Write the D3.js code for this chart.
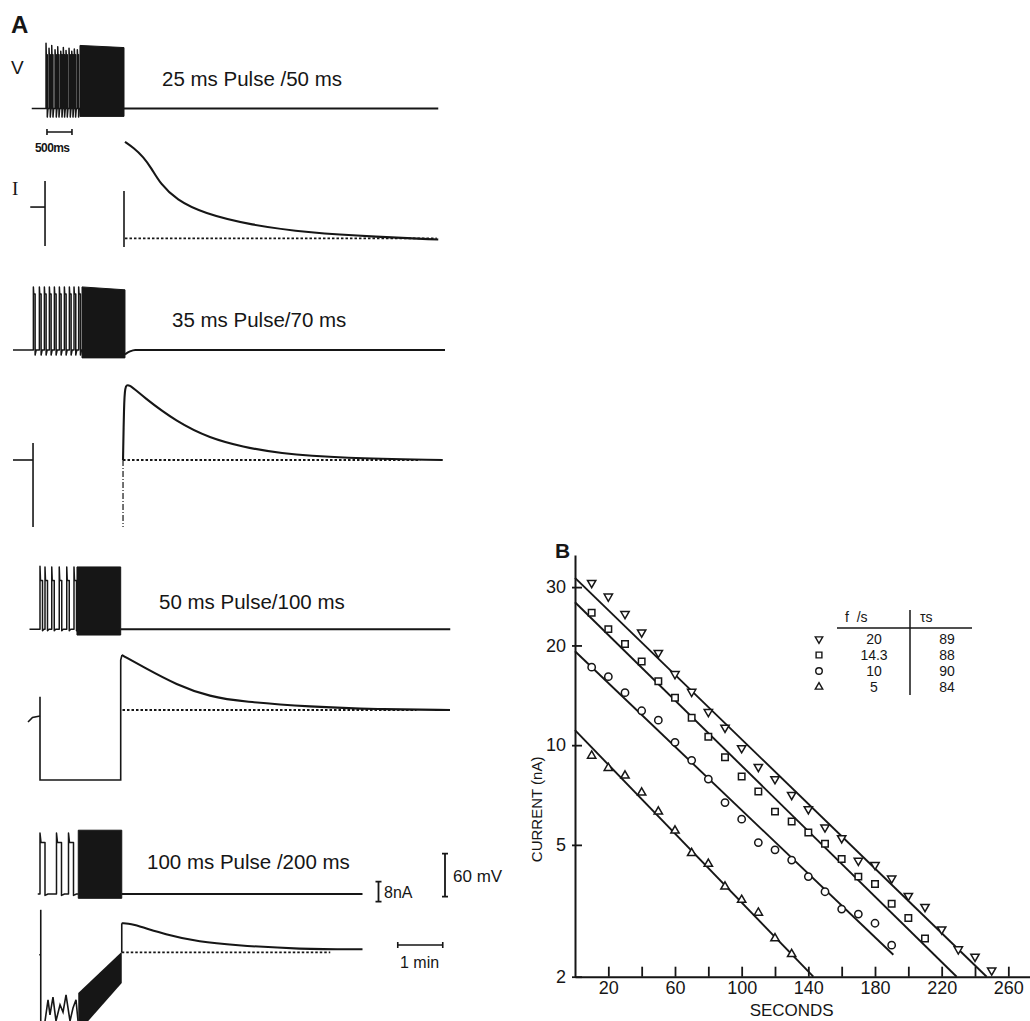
<!DOCTYPE html>
<html>
<head>
<meta charset="utf-8">
<script src="https://cdn.jsdelivr.net/npm/d3@7"></script>
<style>
  body { margin: 0; background: #fff; }
  svg { display: block; font-family: "Liberation Sans", Arial, sans-serif; }
</style>
</head>
<body>
<script>
// ---------- panel B data ----------
const secondsAll = [10,20,30,40,50,60,70,80,90,100,110,120,130,140,150,160,170,180,190,200,210,220,230,240,250];
const current20 = [30.9,28.1,24.9,21.9,19.0,16.4,14.5,12.6,11.3,9.8,8.6,7.9,7.08,6.41,5.65,5.24,4.48,4.35,3.96,3.51,3.25,2.78,2.42,2.30,2.09];
const current14 = [25.1,22.4,20.2,17.9,15.6,13.9,12.1,10.6,9.2,8.04,7.25,6.3,5.88,5.45,5.04,4.53,4.01,3.81,3.32,3.01,2.61];
const current10 = [17.2,16.1,14.4,12.7,11.9,10.2,9.0,7.9,6.71,5.98,5.08,4.83,4.5,4.01,3.61,3.2,3.09,2.9,2.49];
const current5  = [9.29,8.53,8.09,7.19,6.3,5.52,4.72,4.38,3.74,3.41,3.12,2.61,2.34];
const freqLabels = ["20", "14.3", "10", "5"];
const tauLabels = ["89", "88", "90", "84"];
const fitStart = [[0, 32], [0, 27], [0, 19.2], [0, 11.1]];
const fitEnd = [[247, 2], [229, 2], [191, 2.33], [143, 2]];
const yTickValues = [2, 5, 10, 20, 30];
const xTickValues = [20,40,60,80,100,120,140,160,180,200,220,240,260];
const xTickLabelled = [20,60,100,140,180,220,260];

// ---------- panel A data (times in s on the slow chart speed, fast part in ms) ----------
const pulseLabels = ["25 ms Pulse /50 ms", "35 ms Pulse/70 ms", "50 ms Pulse/100 ms", "100 ms Pulse /200 ms"];
const vStartS = [-123, -148, -126, -115];
const vEndS = [419, 428, 435, 318];
const fastStartS = [-105.3, -121.3, -112, -112];
const spikeMs = [
  [20, 80, 134, 200, 254, 314, 366, 420, 480, 534, 586, 646],
  [7, 127, 227, 327, 427, 527, 627, 727, 820, 913],
  [0, 100, 235, 385, 535, 680],
  [0, 330, 570]
];
const spikePeakMv = [
  [91, 84, 88, 82, 86, 80, 85, 81, 84, 80, 83, 82],
  [88, 88, 88, 88, 88, 88, 88, 88, 88, 88],
  [88, 87, 87, 87, 87, 87],
  [85, 85, 85]
];
const pulseWidthMs = [25, 35, 50, 100];
const plateauMv = [75, 78, 68, 72];
const undershootMv = [-12, -7, -2, -2];
const blockS = [[-58.7, 0], [-56, 1.3], [-62.7, -4.4], [-61, -3]];
const blockTopMv = [[88, 85], [88, 84], [87, 87], [89, 89]];
const blockBottomMv = [-11, -11, -8, -6];
const vAfter = [
  [[0, 0]],
  [[1.3, -6], [8, -2], [15, 0]],
  [[-4.4, 0]],
  [[-3, 0]]
];
// current traces, [s, nA] relative to the holding level
const iLines = [
  [ [[-125, 12.5], [-105.3, 12.5]], [[-105.3, 22.9], [-105.3, -3.1]], [[0, 18.9], [0, -3.5]] ],
  [ [[-148, 0], [-121.3, 0]], [[-121.3, 6.8], [-121.3, -26.8]] ],
  [ [[-128, -4.8], [-122, -3], [-112, -2.4]], [[-112, 5.3], [-112, -28], [-4.4, -28], [-4.4, 20], [-2.7, 22]] ],
  [ [[-111, 17], [-111, -30]], [[-113, -1], [-111, -1]],
    [[-105.3,-27.5],[-101.3,-19],[-98.7,-25],[-94.7,-17.9],[-90.7,-27.5],[-85.3,-21],[-81.3,-23.9],[-77.3,-17],[-72,-27.5],[-68,-22.3],[-64,-19],[-61.3,-27.5]],
    [[-3, 0], [-3, 11.6]] ]
];
const iDecay = [
  [[1.3,38.6],[13.3,36.1],[25.7,32.6],[37.3,27.7],[48,22],[70,15.3],[106,10],[168,5.3],[248,2.2],[337,0.6],[419,-0.5]],
  [[-1.3,0],[0,22],[1.3,29.3],[5.3,30.8],[25.3,25.3],[70,15.3],[114.7,8.7],[158.7,5.3],[203.6,2.7],[292,0.7],[425,0]],
  [[-2.7,22],[1.3,21.3],[25.3,17.3],[70.3,10],[114.7,5.3],[158.7,3.3],[248,1.3],[337,0.3],[434.7,0]],
  [[-3,11.6],[8,11.7],[57,6.9],[101,4.2],[145,2.9],[235,1.2],[318,1.2]]
];
const iDashDot = [null, [[-1.3, 0], [-1.3, -26.8]], null, null];
const iBlock = [null, null, null, [[-61, -16.3], [-3, 0.2], [-3, -12.3], [-61, -32]]];
const dashRangeS = [[1.3, 417], [-1.3, 395], [-2, 390], [-3, 275]];

// ---------- layout ----------
const W = 1030, H = 1021;
const ink = "#161616";
const vBase = [108.5, 350, 629.3, 894];
const iBase = [238.3, 460, 710, 952.3];
const labelPos = [[162, 86], [172, 327], [159, 609], [147, 869]];

const svg = d3.select("body").append("svg")
  .attr("width", W).attr("height", H);

// ---------------- Panel A ----------------
const xSlow = d3.scaleLinear().domain([0, 60]).range([124, 169]);
const FAST_S_PER_MS = 33.33 / 500; // 500 ms on fast speed spans 33.3 s of slow chart
const vScales = vBase.map(b => d3.scaleLinear().domain([0, 60]).range([b, b - 43]));
const iScales = iBase.map(b => d3.scaleLinear().domain([0, 8]).range([b, b - 20]));

const panelA = svg.append("g");
panelA.append("text").attr("x", 11).attr("y", 33)
  .attr("font-size", 24).attr("font-weight", "bold").attr("fill", ink).text("A");
panelA.append("text").attr("x", 11).attr("y", 74)
  .attr("font-size", 19).attr("fill", ink).text("V");
panelA.append("text").attr("x", 12).attr("y", 195)
  .attr("font-family", "'Liberation Serif', serif")
  .attr("font-size", 19).attr("fill", ink).text("I");

vBase.forEach((_, r) => {
  const g = panelA.append("g");
  const xv = vScales[r];
  const xi = iScales[r];
  const xf = ms => xSlow(fastStartS[r] + ms * FAST_S_PER_MS);

  // voltage trace
  const pts = [[xSlow(vStartS[r]), xv(0)], [xf(0) - 0.5, xv(0)]];
  spikeMs[r].forEach((t, k) => {
    const w = pulseWidthMs[r];
    pts.push([xf(t), xv(0)], [xf(t), xv(spikePeakMv[r][k])],
      [xf(t + w * 0.2), xv(plateauMv[r])], [xf(t + w), xv(plateauMv[r])],
      [xf(t + w), xv(undershootMv[r])], [xf(t + w * 1.6), xv(0)]);
  });
  pts.push([xSlow(blockS[r][0]), xv(0)]);
  g.append("path")
    .attr("d", d3.line()(pts))
    .attr("fill", "none").attr("stroke", ink).attr("stroke-width", 1.5)
    .attr("stroke-linejoin", "round");

  const blk = [[blockS[r][0], blockTopMv[r][0]], [blockS[r][1], blockTopMv[r][1]],
               [blockS[r][1], blockBottomMv[r]], [blockS[r][0], blockBottomMv[r]]];
  g.append("path")
    .attr("d", d3.line().x(d => xSlow(d[0])).y(d => xv(d[1]))(blk) + "Z")
    .attr("fill", ink).attr("stroke", ink).attr("stroke-width", 1);

  const after = [...vAfter[r], [vEndS[r], 0]];
  g.append("path")
    .attr("d", d3.line().x(d => xSlow(d[0])).y(d => xv(d[1])).curve(d3.curveMonotoneX)(after))
    .attr("fill", "none").attr("stroke", ink).attr("stroke-width", 2);

  g.append("text").attr("x", labelPos[r][0]).attr("y", labelPos[r][1])
    .attr("font-size", 20.5).attr("fill", ink).text(pulseLabels[r]);

  // current trace
  const lin = d3.line().x(d => xSlow(d[0])).y(d => xi(d[1]));
  iLines[r].forEach(seg => {
    g.append("path").attr("d", lin(seg))
      .attr("fill", "none").attr("stroke", ink).attr("stroke-width", 1.6);
  });
  if (iBlock[r]) {
    g.append("path").attr("d", lin(iBlock[r]) + "Z").attr("fill", ink);
  }
  if (iDashDot[r]) {
    g.append("path").attr("d", lin(iDashDot[r]))
      .attr("fill", "none").attr("stroke", ink).attr("stroke-width", 1.2)
      .attr("stroke-dasharray", "6 2 1 2");
  }
  g.append("path")
    .attr("d", lin([[dashRangeS[r][0], 0], [dashRangeS[r][1], 0]]))
    .attr("fill", "none").attr("stroke", ink).attr("stroke-width", 1.8)
    .attr("stroke-dasharray", "2.5 2");
  g.append("path")
    .attr("d", d3.line().x(d => xSlow(d[0])).y(d => xi(d[1])).curve(d3.curveBasis)(iDecay[r]))
    .attr("fill", "none").attr("stroke", ink).attr("stroke-width", 2.1);
});

// scale bars
function hBar(x0, x1, y, tick) {
  panelA.append("path")
    .attr("d", `M${x0},${y}H${x1}M${x0},${y - tick}V${y + tick}M${x1},${y - tick}V${y + tick}`)
    .attr("stroke", ink).attr("stroke-width", 1.6).attr("fill", "none");
}
function vBar(x, y0, y1, tick) {
  panelA.append("path")
    .attr("d", `M${x},${y0}V${y1}M${x - tick},${y0}H${x + tick}M${x - tick},${y1}H${x + tick}`)
    .attr("stroke", ink).attr("stroke-width", 1.8).attr("fill", "none");
}
const xf0 = ms => xSlow(-102.7 + ms * FAST_S_PER_MS);
hBar(xf0(0), xf0(500), 132, 3);
panelA.append("text").attr("x", 35).attr("y", 152).attr("font-size", 12)
  .attr("font-weight", "bold").attr("fill", ink).attr("letter-spacing", -0.6).text("500ms");

const nA = d3.scaleLinear().domain([0, 8]).range([901.7, 881.7]);
vBar(378.5, nA(0), nA(8), 3);
panelA.append("text").attr("x", 384).attr("y", 898).attr("font-size", 16)
  .attr("fill", ink).text("8nA");
const mV = d3.scaleLinear().domain([0, 60]).range([896.7, 853.7]);
vBar(445, mV(0), mV(60), 3);
panelA.append("text").attr("x", 453).attr("y", 882).attr("font-size", 17)
  .attr("fill", ink).text("60 mV");
hBar(xSlow(365), xSlow(425), 945, 3);
panelA.append("text").attr("x", 400).attr("y", 968).attr("font-size", 16)
  .attr("fill", ink).text("1 min");

// ---------------- Panel B ----------------
const bx = d3.scaleLinear().domain([0, 273]).range([575, 1030]);
const by = d3.scaleLog().domain([2, 37.5]).range([976.7, 555]);
const panelB = svg.append("g");

panelB.append("text").attr("x", 555).attr("y", 558)
  .attr("font-size", 21).attr("font-weight", "bold").attr("fill", ink).text("B");

const xAxis = panelB.append("g").attr("transform", `translate(0,${by(2)})`)
  .call(d3.axisBottom(bx).tickValues(xTickValues).tickSize(-10).tickSizeOuter(0).tickPadding(5)
    .tickFormat(d => xTickLabelled.includes(d) ? d : ""));
const yAxis = panelB.append("g").attr("transform", `translate(${bx(0)},0)`)
  .call(d3.axisLeft(by).tickValues(yTickValues).tickSize(-7).tickSizeOuter(0).tickPadding(9)
    .tickFormat(d => d));
[xAxis, yAxis].forEach(a => {
  a.attr("font-family", null).attr("font-size", null);
  a.selectAll("text").attr("font-size", 18).attr("fill", ink);
  a.selectAll("line").attr("stroke", ink).attr("stroke-width", 1.8);
  a.select(".domain").attr("stroke", ink).attr("stroke-width", 2);
});
yAxis.selectAll(".tick line").attr("x1", -3);

panelB.append("text").attr("x", bx(130)).attr("y", 1016).attr("text-anchor", "middle")
  .attr("font-size", 17).attr("fill", ink).text("SECONDS");
panelB.append("text").attr("transform", `translate(542,${by(6.4)}) rotate(-90)`)
  .attr("text-anchor", "middle").attr("font-size", 15).attr("fill", ink).text("CURRENT (nA)");

// fitted lines
fitStart.forEach((s, k) => {
  panelB.append("line")
    .attr("x1", bx(s[0])).attr("y1", by(s[1]))
    .attr("x2", bx(fitEnd[k][0])).attr("y2", by(fitEnd[k][1]))
    .attr("stroke", ink).attr("stroke-width", 1.9);
});

const symbols = [
  { type: d3.symbolTriangle, size: 30, rot: 180 },
  { type: d3.symbolSquare, size: 42, rot: 0 },
  { type: d3.symbolCircle, size: 42, rot: 0 },
  { type: d3.symbolTriangle, size: 30, rot: 0 }
];
const seriesList = [current20, current14, current10, current5];
seriesList.forEach((vals, k) => {
  const sym = d3.symbol().type(symbols[k].type).size(symbols[k].size);
  panelB.append("g").selectAll("path").data(vals).join("path")
    .attr("transform", (d, i) => `translate(${bx(secondsAll[i])},${by(d)}) rotate(${symbols[k].rot})`)
    .attr("d", sym())
    .attr("fill", "#fff").attr("stroke", ink).attr("stroke-width", 1.5);
});

// legend table
const leg = panelB.append("g");
const legRowY = [639, 655, 671, 687];
leg.append("text").attr("x", 845).attr("y", 622).attr("font-size", 14).attr("fill", ink)
  .attr("xml:space", "preserve").text("f  /s");
leg.append("text").attr("x", 920).attr("y", 622).attr("font-size", 14).attr("fill", ink).text("τs");
leg.append("line").attr("x1", 837).attr("x2", 972).attr("y1", 628).attr("y2", 628)
  .attr("stroke", ink).attr("stroke-width", 1.5);
leg.append("line").attr("x1", 910).attr("x2", 910).attr("y1", 610).attr("y2", 695)
  .attr("stroke", ink).attr("stroke-width", 1.5);
freqLabels.forEach((f, k) => {
  const sym = d3.symbol().type(symbols[k].type).size(symbols[k].size * 0.8);
  leg.append("path").attr("transform", `translate(819,${legRowY[k]}) rotate(${symbols[k].rot})`)
    .attr("d", sym()).attr("fill", "#fff").attr("stroke", ink).attr("stroke-width", 1.4);
  leg.append("text").attr("x", 874).attr("y", legRowY[k] + 5).attr("text-anchor", "middle")
    .attr("font-size", 14).attr("fill", ink).text(f);
  leg.append("text").attr("x", 947).attr("y", legRowY[k] + 5).attr("text-anchor", "middle")
    .attr("font-size", 14).attr("fill", ink).text(tauLabels[k]);
});
</script>
</body>
</html>
